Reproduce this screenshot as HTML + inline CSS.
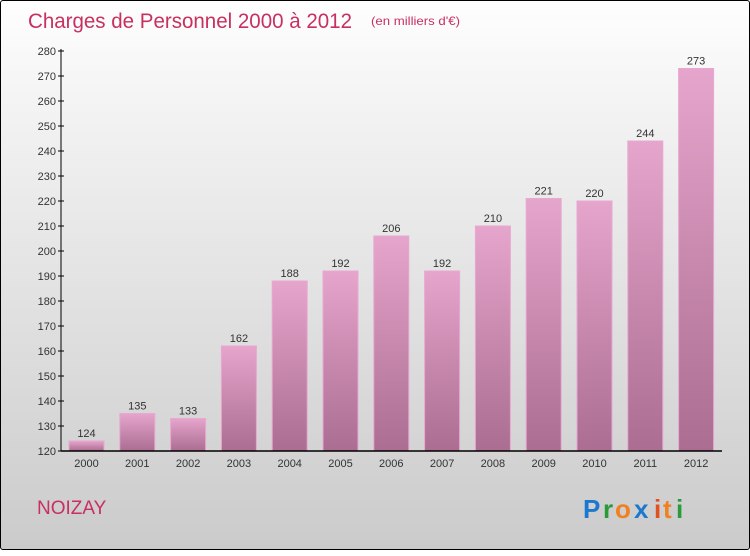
<!DOCTYPE html>
<html><head><meta charset="utf-8"><style>
body{margin:0;width:750px;height:550px;overflow:hidden;font-family:"Liberation Sans",sans-serif}
#frame{position:absolute;left:0;top:0;width:748px;height:548px;border:1px solid #000;border-radius:3px;background:linear-gradient(#fefefe,#f0f0f0 25%,#cbcbcb)}
</style></head><body>
<div id="frame">
<svg width="750" height="550">
<defs>
<linearGradient id="bg" x1="0" y1="0" x2="0" y2="1"><stop offset="0" stop-color="#e6a5cc"/><stop offset="1" stop-color="#ab6d92"/></linearGradient>
</defs>
<text x="27" y="27" font-size="21" fill="#c8305e" textLength="324" lengthAdjust="spacingAndGlyphs">Charges de Personnel 2000 à 2012</text>
<text x="370" y="24" font-size="12" fill="#c8305e" textLength="89" lengthAdjust="spacingAndGlyphs">(en milliers d'€)</text>
<g id="plot"></g>
<text x="36" y="513" font-size="19" fill="#c8305e">NOIZAY</text>
<g font-size="26" font-weight="bold" font-family="'Liberation Sans',sans-serif">
<text x="582" y="517" fill="#1a78d0">P</text><text x="602" y="517" fill="#2a9a3a">r</text><text x="614" y="517" fill="#f08020">o</text><text x="633" y="517" fill="#1a78d0">x</text><text x="653" y="517" fill="#e05020">i</text><text x="662" y="517" fill="#f08020">t</text><text x="675" y="517" fill="#2a9a3a">i</text>
</g>
</svg></div>
<script>
const years=["2000","2001","2002","2003","2004","2005","2006","2007","2008","2009","2010","2011","2012"];
const values=[124,135,133,162,188,192,206,192,210,221,220,244,273];
const yTicks=[120,130,140,150,160,170,180,190,200,210,220,230,240,250,260,270,280];
const NS="http://www.w3.org/2000/svg";
const g=document.getElementById('plot');
const y=v=>450-(v-120)*2.5;
const xc=i=>85.5+i*50.8;
function mk(t,a,txt){const e=document.createElementNS(NS,t);for(const k in a)e.setAttribute(k,a[k]);if(txt!=null)e.textContent=txt;g.appendChild(e);return e;}
values.forEach((v,i)=>{
 const b=mk('rect',{x:xc(i)-17.5,y:y(v),width:35,height:450-y(v),fill:'url(#bg)',stroke:'#e8a8d0','stroke-width':1});
 
 
 const l=mk('text',{x:xc(i),y:y(v)-4,'text-anchor':'middle','font-size':11,fill:'#333'},v);
 
 
 const t=mk('text',{x:xc(i),y:466,'text-anchor':'middle','font-size':11,fill:'#333'},years[i]);
 
 
});
yTicks.forEach(v=>{
 mk('line',{x1:57,x2:63,y1:y(v),y2:y(v),stroke:'#000'});
 const t=mk('text',{x:55,y:y(v)+4,'text-anchor':'end','font-size':11,fill:'#333'},v);
 
 
});
const ya=mk('line',{x1:60,x2:60,y1:48,y2:450,stroke:'#000'});


const xa=mk('line',{x1:60,x2:721,y1:450,y2:450,stroke:'#000','stroke-width':1.5});


</script>
</body></html>
